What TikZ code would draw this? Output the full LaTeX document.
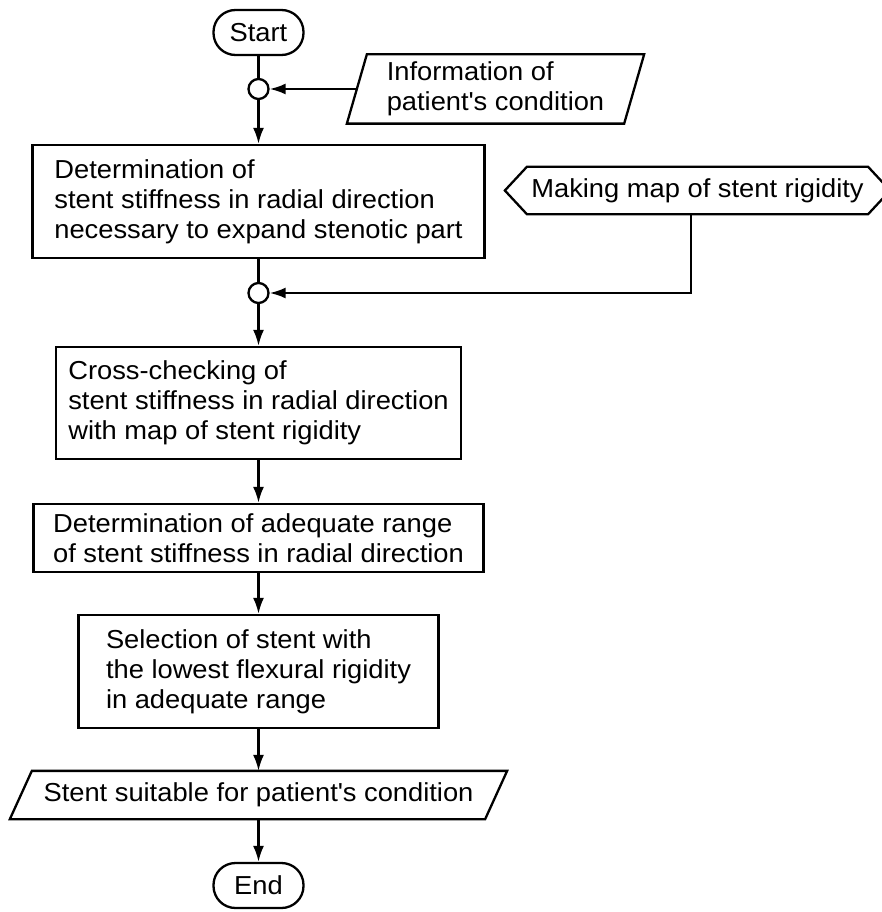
\documentclass[tikz,border=0pt]{standalone}
\usepackage{fontspec}
\setmainfont{Liberation Sans}[FakeStretch=1.05]
\usetikzlibrary{arrows.meta,calc}

\tikzset{
	terminal/.style={draw, rectangle, rounded corners=22pt, minimum width=90pt, minimum height=45pt, inner sep=0pt},
	process/.style={draw, rectangle, align=left, inner sep=0pt},
	databox/.style={rectangle, align=left, inner sep=0pt},
	joint/.style={draw, circle, minimum size=20pt, inner sep=0pt},
	flow/.style={-{Latex[length=16pt,width=11pt]}},
}

\begin{document}
\begin{tikzpicture}[x=1pt, y=-1pt, line width=2.3pt, font=\fontsize{26}{30}\selectfont]
	\useasboundingbox (0,0) rectangle (881,912);
	% Nodes of the main column:
	\node[terminal](start) at (258.5, 32.5){Start};
	\node[joint](c1) at (258.5, 89){};
	\node[process, minimum width=452pt, minimum height=113pt](det) at (258.5, 201.5){Determination of\\stent stiffness in radial direction\\necessary to expand stenotic part};
	\node[joint](c2) at (258.5, 293){};
	\node[process, minimum width=405pt, minimum height=112pt](cross) at (258.5, 403){Cross-checking of\\stent stiffness in radial direction\\with map of stent rigidity};
	\node[process, minimum width=450pt, minimum height=68pt](range) at (258.5, 538){Determination of adequate range\\of stent stiffness in radial direction};
	\node[process, minimum width=360pt, minimum height=113pt](select) at (258.5, 671.5){Selection of stent with\\the lowest flexural rigidity\\in adequate range};
	\node[databox, minimum width=473pt, minimum height=46pt](result) at (258.5, 795){Stent suitable for patient\textquotesingle s condition};
	\node[terminal](stop) at (258.5, 885.5){End};
	% Side inputs:
	\node[databox, minimum width=275pt, minimum height=67pt](info) at (495.5, 89){Information of\\patient\textquotesingle s condition};
	\node[databox, minimum width=339pt, minimum height=45pt](map) at (697.5, 190.5){Making map of stent rigidity};
	\coordinate (bend) at (691, 293);
	% Outlines of the data and preparation shapes:
	\draw ($(info.north west)+(10,0)$) -- ($(info.north east)+(10,0)$) -- ($(info.south east)+(-10,0)$) -- ($(info.south west)+(-10,0)$) -- cycle;
	\draw ($(result.north west)+(11,0)$) -- ($(result.north east)+(11,0)$) -- ($(result.south east)+(-11,0)$) -- ($(result.south west)+(-11,0)$) -- cycle;
	\draw ($(map.west)+(-22,0)$) -- (map.north west) -- (map.north east) -- ($(map.east)+(22,0)$) -- (map.south east) -- (map.south west) -- cycle;
	% Connectors:
	\draw (start) -- (c1);
	\draw[flow] (info.west) -- (c1);
	\draw[flow] (c1) -- (det);
	\draw (det) -- (c2);
	\draw[flow] (map.south -| bend) -- (bend) -- (c2);
	\draw[flow] (c2) -- (cross);
	\draw[flow] (cross) -- (range);
	\draw[flow] (range) -- (select);
	\draw[flow] (select) -- (result);
	\draw[flow] (result) -- (stop);
\end{tikzpicture}
\end{document}
